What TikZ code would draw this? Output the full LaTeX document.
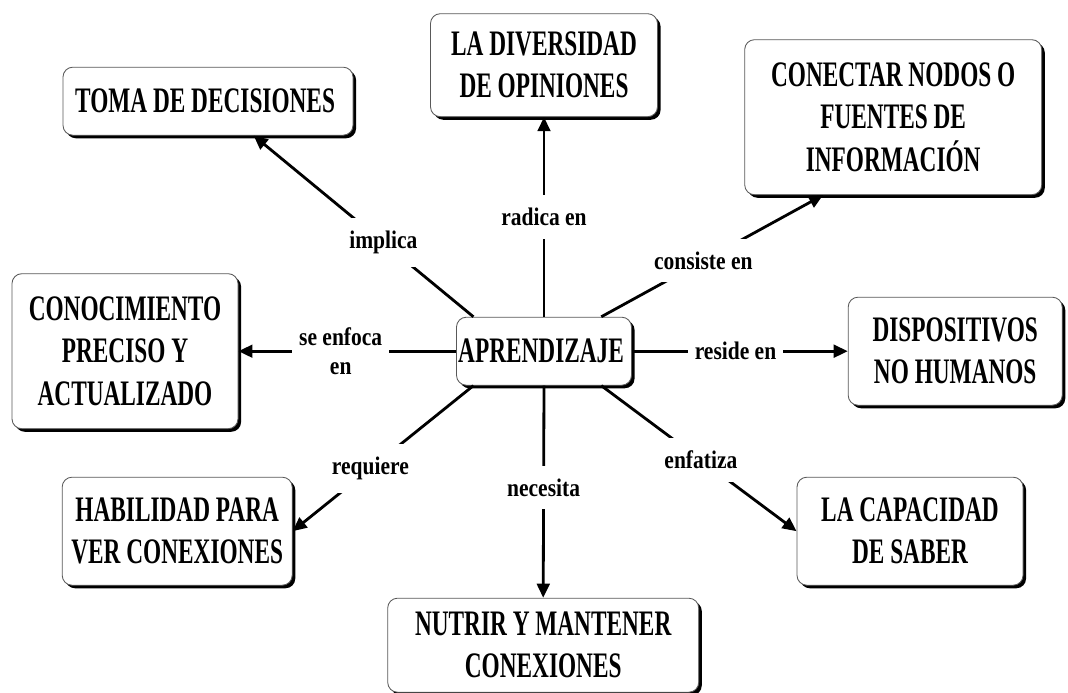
\documentclass[tikz,border=0pt]{standalone}
\usepackage{fontspec}
\newfontfamily\fuentecaja{Liberation Serif}[FakeStretch=0.65]
\newfontfamily\fuenteetiq{Liberation Serif}[FakeStretch=0.85]
\usetikzlibrary{arrows.meta,shadows}
\tikzset{
	caja/.style={rounded corners=7pt, draw=black!65, line width=0.6pt, fill=white,
		drop shadow={shadow xshift=2.2pt, shadow yshift=-2.2pt, opacity=1, fill=black},
		align=center, inner sep=0pt,
		font=\fuentecaja\bfseries\fontsize{25.5}{30}\selectfont},
	etiqueta/.style={fill=white, inner xsep=5pt, inner ysep=9pt, align=center,
		font=\fuenteetiq\bfseries\fontsize{18}{20}\selectfont},
	enlace/.style={line width=2pt, -{Triangle[length=10pt,width=9pt]}}
}

\begin{document}
\begin{tikzpicture}
	\fill[white] (0,0) rectangle (26.7,-17.325);
	\useasboundingbox (0,0) rectangle (26.7,-17.325);
	
	\draw (13.6,-8.78) node[caja, minimum width=4.375cm, minimum height=1.7cm] (apr)
	{
		APRENDIZAJE
	};
	
	\draw (5.2,-2.53) node[caja, minimum width=7.25cm, minimum height=1.7cm] (toma)
	{
		TOMA DE DECISIONES
	};
	
	\draw (13.6,-1.63) node[caja, minimum width=5.675cm, minimum height=2.575cm] (diversidad)
	{
		LA DIVERSIDAD \\
		DE OPINIONES
	};
	
	\draw (22.33,-2.93) node[caja, minimum width=7.425cm, minimum height=3.875cm] (conectar)
	{
		CONECTAR NODOS O \\
		FUENTES DE \\
		INFORMACIÓN
	};
	
	\draw (3.125,-8.78) node[caja, minimum width=5.65cm, minimum height=3.875cm] (conocimiento)
	{
		CONOCIMIENTO \\
		PRECISO Y \\
		ACTUALIZADO
	};
	
	\draw (23.88,-8.78) node[caja, minimum width=5.35cm, minimum height=2.7cm] (dispositivos)
	{
		DISPOSITIVOS \\
		NO HUMANOS
	};
	
	\draw (4.43,-13.28) node[caja, minimum width=5.75cm, minimum height=2.7cm] (habilidad)
	{
		HABILIDAD PARA \\
		VER CONEXIONES
	};
	
	\draw (22.75,-13.28) node[caja, minimum width=5.65cm, minimum height=2.7cm] (capacidad)
	{
		LA CAPACIDAD \\
		DE SABER
	};
	
	\draw (13.58,-16.13) node[caja, minimum width=7.775cm, minimum height=2.35cm] (nutrir)
	{
		NUTRIR Y MANTENER \\
		CONEXIONES
	};
	
	\draw [enlace] (apr.154) -- node[etiqueta, pos=0.41] (lImplica) {implica} (toma.-37);
	\draw [enlace] (apr.north) -- node[etiqueta, pos=0.5] (lRadica) {radica en} (diversidad.south);
	\draw [enlace] (apr.31) -- node[etiqueta, pos=0.46] (lConsiste) {consiste en} (conectar.228);
	\draw [enlace] (apr.west) -- node[etiqueta, pos=0.53] (lEnfoca) {se enfoca \\ en} (conocimiento.east);
	\draw [enlace] (apr.east) -- node[etiqueta, pos=0.48] (lReside) {reside en} (dispositivos.west);
	\draw [enlace] (apr.206) -- node[etiqueta, pos=0.57] (lRequiere) {requiere} (habilidad.east);
	\draw [enlace] (apr.south) -- node[etiqueta, pos=0.48] (lNecesita) {necesita} (nutrir.north);
	\draw [enlace] (apr.-31) -- node[etiqueta, pos=0.51] (lEnfatiza) {enfatiza} (capacidad.west);
\end{tikzpicture}
\end{document}
